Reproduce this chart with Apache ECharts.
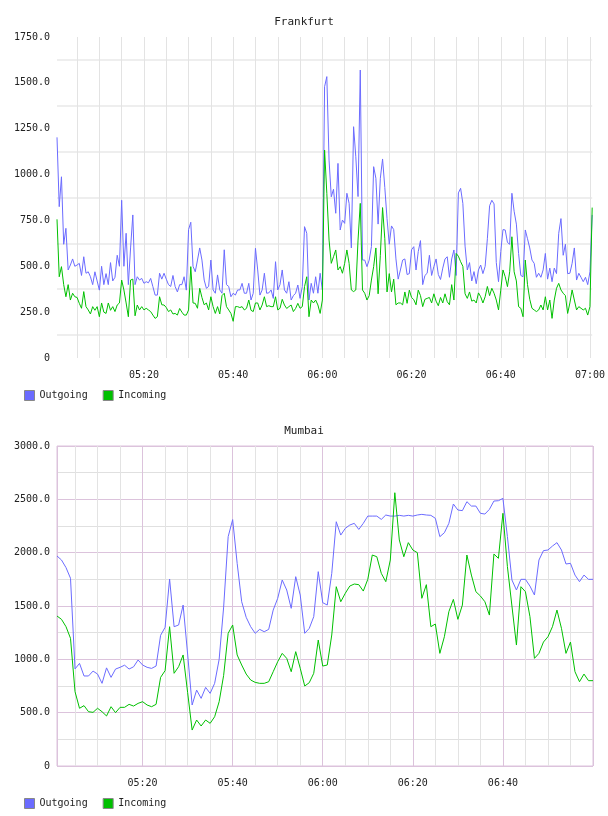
<!DOCTYPE html>
<html>
<head>
<meta charset="utf-8">
<script src="https://cdn.jsdelivr.net/npm/echarts@6/dist/echarts.min.js"></script>
<style>
html,body{margin:0;padding:0;background:#fff;}
#chart{width:608px;height:816px;}
</style>
</head>
<body>
<div id="chart"></div>
<script>
// Frankfurt: samples every 30 s, first sample at 05:00:30 (minutes after 05:00)
const fraStartMin = 0.5;
const fraStepMin = 0.5;
const fraOutgoing = [1203,825,988,620,707,480,507,540,500,507,
 516,450,552,462,470,443,400,470,420,370,
 500,400,460,400,520,420,440,560,500,860,
 500,680,400,600,780,400,443,425,434,407,
 416,410,434,389,343,343,462,430,462,430,
 400,390,450,389,360,400,400,443,370,700,
 740,500,470,534,600,534,425,380,390,534,
 371,353,453,371,353,590,400,390,334,353,
 343,371,371,407,353,353,407,316,353,598,
 480,343,371,462,353,355,371,325,525,371,
 400,480,371,353,416,316,340,353,398,325,
 389,716,680,316,407,353,443,353,462,371,
 1479,1534,1079,879,920,789,1061,698,752,734,
 898,843,600,1261,1097,880,1570,534,534,498,
 534,607,1043,980,730,980,1085,930,760,620,
 720,700,540,430,480,534,540,455,460,590,
 607,480,580,640,400,450,462,560,450,498,
 540,455,428,490,540,552,440,540,589,450,
 900,925,843,610,480,520,420,471,405,480,
 507,460,500,650,830,860,840,520,416,580,
 700,698,630,620,898,800,730,570,450,443,
 698,650,600,534,516,440,462,440,480,570,
 430,490,416,490,460,680,760,560,620,460,
 462,516,600,425,462,440,416,440,400,470,
 780];
const fraIncoming = [756,443,498,400,334,400,316,353,334,330,
 298,271,362,280,262,240,280,260,280,225,
 300,250,243,300,260,280,253,289,300,425,
 371,300,225,425,430,230,289,262,280,262,
 271,262,253,234,216,225,334,290,289,275,
 253,262,240,243,234,270,250,234,234,262,
 498,300,298,271,380,330,290,300,262,334,
 280,243,280,240,340,353,280,262,243,200,
 280,280,275,280,262,271,316,260,253,300,
 300,262,289,334,280,285,280,280,334,262,
 271,320,289,270,280,289,253,270,298,271,
 280,389,443,225,316,300,316,289,243,316,
 1134,898,643,516,552,589,480,498,462,516,
 589,516,371,362,371,643,843,371,353,316,
 340,425,498,600,350,560,820,650,360,460,
 360,430,290,300,300,290,360,298,370,330,
 318,290,370,340,280,320,325,330,300,350,
 310,285,330,300,350,307,290,400,316,570,
 555,525,500,350,325,360,310,316,300,355,
 334,300,334,390,340,380,353,316,262,370,
 480,443,389,470,661,470,420,280,271,225,
 534,400,320,271,262,253,262,289,262,334,
 262,316,216,316,380,407,371,353,340,243,
 300,371,316,262,280,271,262,271,234,280,
 820];

// Mumbai: samples every minute, first sample at 05:01
const mumStartMin = 1;
const mumStepMin = 1;
const mumOutgoing = [1969,1931,1860,1760,910,962,844,844,890,862,
 775,920,831,909,925,945,909,930,994,947,
 925,915,937,1225,1300,1753,1306,1322,1509,1050,
 572,712,634,737,681,775,1000,1490,2150,2310,
 1900,1540,1394,1306,1244,1281,1259,1281,1462,1572,
 1744,1650,1478,1775,1603,1244,1290,1400,1822,1531,
 1509,1806,2290,2165,2228,2259,2275,2218,2275,2343,
 2343,2343,2312,2353,2343,2343,2350,2343,2350,2343,
 2353,2359,2353,2350,2322,2150,2187,2275,2456,2400,
 2394,2478,2437,2437,2369,2362,2406,2484,2487,2509,
 2150,1744,1650,1750,1750,1687,1603,1931,2019,2025,
 2062,2094,2025,1894,1900,1790,1728,1790,1750,1750];
const mumIncoming = [1406,1375,1306,1197,697,541,566,509,503,541,
 509,469,556,500,550,550,578,562,587,603,
 572,556,578,831,894,1306,869,931,1041,690,
 337,431,375,431,400,462,603,850,1244,1322,
 1041,947,862,806,784,775,775,790,884,978,
 1056,1009,884,1072,916,750,781,869,1181,937,
 947,1228,1681,1540,1619,1687,1706,1700,1640,1750,
 1978,1962,1806,1728,1931,2562,2119,1962,2094,2025,
 2000,1572,1700,1306,1331,1056,1212,1447,1562,1375,
 1509,1978,1790,1634,1594,1540,1415,1987,1947,2369,
 1869,1500,1134,1681,1634,1400,1009,1056,1162,1212,
 1306,1462,1290,1056,1162,884,790,862,800,800];

// Tick labels
const fraXTickLabels = {20:'05:20',40:'05:40',60:'06:00',80:'06:20',100:'06:40',120:'07:00'};
const mumXTickLabels = {20:'05:20',40:'05:40',60:'06:00',80:'06:20',100:'06:40'};
const fraYTickLabels = {0:'0',250:'250.0',500:'500.0',750:'750.0',1000:'1000.0',1250:'1250.0',1500:'1500.0',1750:'1750.0'};
const mumYTickLabels = {0:'0',500:'500.0',1000:'1000.0',1500:'1500.0',2000:'2000.0',2500:'2500.0',3000:'3000.0'};
const seriesNames = ['Outgoing','Incoming'];
const titles = ['Frankfurt','Mumbai'];

function pairs(start, step, vals){ return vals.map((v,i)=>[start+step*i, v]); }

const FONT = 'DejaVu Sans Mono';
const BLUE = '#6b6bff';
const GREEN = '#00c000';
const PINK = '#dcc3dc';
const GRAYV = '#e3e3e3';

const chart = echarts.init(document.getElementById('chart'), null, {renderer:'canvas'});
const labelStyle = {fontSize:10, fontFamily:FONT, color:'#222'};

chart.setOption({
  animation:false,
  color:[BLUE, GREEN],
  title:[
    {text:titles[0], left:'center', top:12, textStyle:{fontSize:11, fontWeight:'normal', fontFamily:FONT, color:'#222'}},
    {text:titles[1], left:'center', top:421, textStyle:{fontSize:11, fontWeight:'normal', fontFamily:FONT, color:'#222'}}
  ],
  legend:[
    {data:seriesNames, left:19, top:385, icon:'rect', itemWidth:10, itemHeight:10, itemGap:15,
     itemStyle:{borderColor:'#888', borderWidth:1}, textStyle:{fontSize:10, fontFamily:FONT, color:'#222'}},
    {data:seriesNames, left:19, top:793, icon:'rect', itemWidth:10, itemHeight:10, itemGap:15,
     itemStyle:{borderColor:'#888', borderWidth:1}, textStyle:{fontSize:10, fontFamily:FONT, color:'#222'}}
  ],
  grid:[
    {left:57, top:37, width:536, height:321},
    {left:57, top:446, width:536, height:320, show:true, borderColor:PINK, borderWidth:1, backgroundColor:'transparent'}
  ],
  xAxis:[
    {type:'value', gridIndex:0, min:0.5, max:120.5, splitNumber:24,
     axisLine:{show:false}, axisTick:{show:false},
     axisLabel:Object.assign({margin:12, formatter:v=>fraXTickLabels[Math.round(v*100)/100]||''}, labelStyle),
     splitLine:{show:true, showMinLine:false, showMaxLine:false, lineStyle:{color:GRAYV, width:1}}},
    {type:'value', gridIndex:1, min:1, max:120, splitNumber:24,
     axisLine:{show:false}, axisTick:{show:false},
     axisLabel:Object.assign({margin:12, formatter:v=>mumXTickLabels[Math.round(v*100)/100]||''}, labelStyle),
     splitLine:{show:true, lineStyle:{color:[PINK,GRAYV,GRAYV,GRAYV], width:1}}}
  ],
  yAxis:[
    {type:'value', gridIndex:0, min:0, max:1750, interval:125,
     axisLine:{show:false}, axisTick:{show:false},
     axisLabel:Object.assign({margin:7, formatter:v=>fraYTickLabels[v]||''}, labelStyle),
     splitLine:{show:true, lineStyle:{color:['rgba(0,0,0,0)','#eeeeee'], width:2}}},
    {type:'value', gridIndex:1, min:0, max:3000, interval:250,
     axisLine:{show:false}, axisTick:{show:false},
     axisLabel:Object.assign({margin:7, formatter:v=>mumYTickLabels[v]||''}, labelStyle),
     splitLine:{show:true, lineStyle:{color:[PINK,'#e0e0e0'], width:1}}}
  ],
  series:[
    {name:seriesNames[0], type:'line', xAxisIndex:0, yAxisIndex:0, showSymbol:false, symbol:'none',
     lineStyle:{width:1, color:BLUE}, itemStyle:{color:BLUE}, data:pairs(fraStartMin, fraStepMin, fraOutgoing)},
    {name:seriesNames[1], type:'line', xAxisIndex:0, yAxisIndex:0, showSymbol:false, symbol:'none',
     lineStyle:{width:1, color:GREEN}, itemStyle:{color:GREEN}, data:pairs(fraStartMin, fraStepMin, fraIncoming)},
    {name:seriesNames[0], type:'line', xAxisIndex:1, yAxisIndex:1, showSymbol:false, symbol:'none',
     lineStyle:{width:1, color:BLUE}, itemStyle:{color:BLUE}, data:pairs(mumStartMin, mumStepMin, mumOutgoing)},
    {name:seriesNames[1], type:'line', xAxisIndex:1, yAxisIndex:1, showSymbol:false, symbol:'none',
     lineStyle:{width:1, color:GREEN}, itemStyle:{color:GREEN}, data:pairs(mumStartMin, mumStepMin, mumIncoming)}
  ]
});
</script>
</body>
</html>
